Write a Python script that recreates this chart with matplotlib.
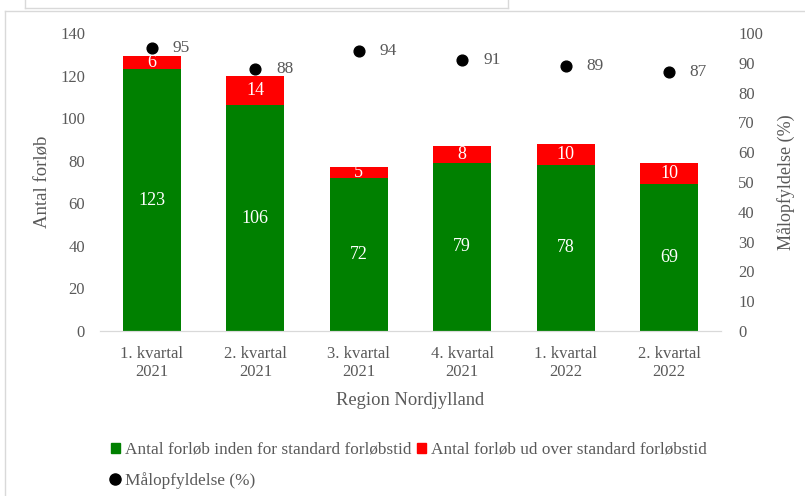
import matplotlib.pyplot as plt
from matplotlib.lines import Line2D
from matplotlib.patches import Patch
import numpy as np

plt.rcParams['font.family'] = ['Liberation Serif', 'DejaVu Serif']

categories = ["1. kvartal\n2021", "2. kvartal\n2021", "3. kvartal\n2021",
              "4. kvartal\n2021", "1. kvartal\n2022", "2. kvartal\n2022"]
inden = [123, 106, 72, 79, 78, 69]
udover = [6, 14, 5, 8, 10, 10]
maalopfyldelse = [95, 88, 94, 91, 89, 87]

green = "#008000"
red = "#ff0000"
gray = "#595959"

fig = plt.figure(figsize=(8.05, 4.96), dpi=100)
W, H = 805, 496
ax = fig.add_axes([100.3 / W, 165 / H, 620.4 / W, 298 / H])
ax2 = ax.twinx()

x = np.arange(len(categories))
bw = 0.56
ax.bar(x, inden, bw, color=green, zorder=2)
ax.bar(x, udover, bw, bottom=inden, color=red, zorder=2)
for xi, a, b in zip(x, inden, udover):
    ax.text(xi, a / 2, str(a), ha='center', va='center', color='white', fontsize=13)
    ax.text(xi, a + b / 2, str(b), ha='center', va='center', color='white', fontsize=13)

ax.set_xlim(-0.5, len(categories) - 0.5)
ax.set_ylim(0, 140)
ax.set_yticks(range(0, 141, 20))
ax.set_xticks(x)
ax.set_xticklabels(categories)
ax.tick_params(axis='both', length=0, colors=gray, labelsize=12)
ax.tick_params(axis='x', pad=10.5)
ax.tick_params(axis='y', pad=11)
ax.set_xlabel("Region Nordjylland", color=gray, fontsize=13.3, labelpad=9)
ax.set_ylabel("Antal forløb", color=gray, fontsize=13.5, labelpad=6)

ax2.set_ylim(0, 100)
ax2.set_yticks(range(0, 101, 10))
ax2.tick_params(axis='y', length=0, colors=gray, labelsize=12, pad=12.5)
ax2.set_ylabel("Målopfyldelse (%)", color=gray, fontsize=13, labelpad=10)
ax2.scatter(x, maalopfyldelse, s=60, color='black', zorder=3)
for xi, v in zip(x, maalopfyldelse):
    ax2.annotate(str(v), (xi, v), xytext=(15, 0), textcoords='offset points',
                 ha='left', va='center', color=gray, fontsize=12.5)

for a in (ax, ax2):
    for s in ('left', 'right', 'top'):
        a.spines[s].set_visible(False)
    a.spines['bottom'].set_color('#d9d9d9')

handles = [Patch(color=green), Line2D([], [], marker='o', color='black', linestyle='None', markersize=8),
           Patch(color=red)]
labels = ["Antal forløb inden for standard forløbstid", "Målopfyldelse (%)",
          "Antal forløb ud over standard forløbstid"]
fig.legend(handles, labels, ncol=2, loc='upper left', bbox_to_anchor=(104 / W, 1 - 435 / H),
           frameon=False, fontsize=12.4, labelcolor=gray, handlelength=0.5, handleheight=0.5,
           handletextpad=0.3, columnspacing=0.35, labelspacing=0.82, borderaxespad=0)

# chart frames
fc = '#d9d9d9'
tf = fig.transFigure
fig.add_artist(Line2D([5 / W, 5 / W], [0, 1 - 11 / H], color=fc, lw=1, transform=tf))
fig.add_artist(Line2D([5 / W, 1], [1 - 11 / H, 1 - 11 / H], color=fc, lw=1, transform=tf))
fig.add_artist(Line2D([25 / W, 508 / W], [1 - 8 / H, 1 - 8 / H], color=fc, lw=1, transform=tf))
fig.add_artist(Line2D([25 / W, 25 / W], [1 - 8 / H, 1], color=fc, lw=1, transform=tf))
fig.add_artist(Line2D([508 / W, 508 / W], [1 - 8 / H, 1], color=fc, lw=1, transform=tf))

fig.savefig("out.png", dpi=100)
